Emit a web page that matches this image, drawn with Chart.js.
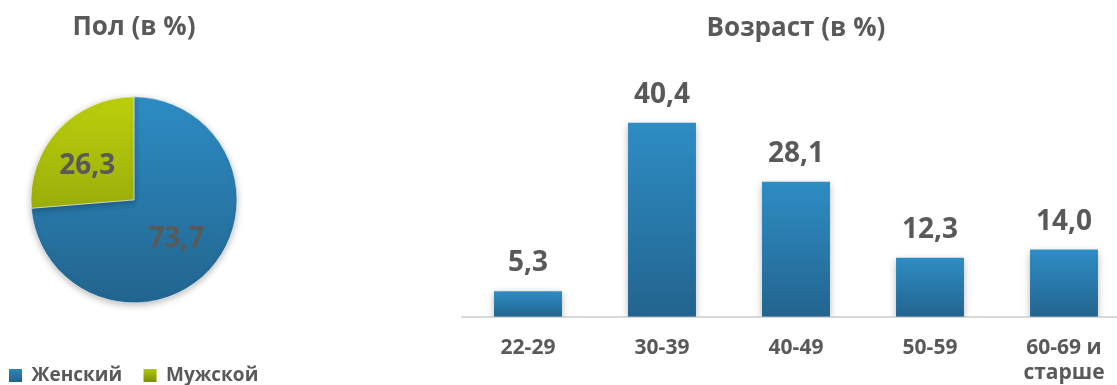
<!DOCTYPE html>
<html lang="ru">
<head>
<meta charset="utf-8">
<title>Пол и возраст</title>
<script src="https://cdn.jsdelivr.net/npm/chart.js@4/dist/chart.umd.min.js"></script>
<style>
  html, body { margin: 0; padding: 0; background: #fff; overflow: hidden; }
  body { width: 1117px; height: 385px; position: relative; }
  .box { position: absolute; top: 0; }
  #pieBox { left: -1px; width: 270px; height: 395px; }
  #barBox { left: 461px; width: 670px; height: 404px; }
</style>
</head>
<body>
<div class="box" id="pieBox"><canvas id="pieChart"></canvas></div>
<div class="box" id="barBox"><canvas id="barChart"></canvas></div>
<script>
const genderLabels = ['Женский', 'Мужской'];
const genderValues = [73.7, 26.3];

const ageLabels = ['22-29', '30-39', '40-49', '50-59', ['60-69 и', 'старше']];
const ageValues = [5.3, 40.4, 28.1, 12.3, 14.0];

const textGrey = '#595959';
const fontFamily = '"Open Sans", "Noto Sans", sans-serif';
const pieRadius = 103;

Chart.defaults.font.family = fontFamily;
Chart.defaults.color = textGrey;

function fmt(v) {
  return v.toFixed(1).replace('.', ',');
}

function vGradient(ctx, top, bottom, c1, c2) {
  const g = ctx.createLinearGradient(0, top, 0, bottom);
  g.addColorStop(0, c1);
  g.addColorStop(1, c2);
  return g;
}

// soft drop shadow under slices and bars
const shadowPlugin = {
  id: 'shadow',
  beforeDatasetsDraw(chart) {
    const ctx = chart.ctx;
    ctx.save();
    ctx.shadowColor = 'rgba(0,0,0,0.28)';
    ctx.shadowBlur = 7;
    ctx.shadowOffsetY = 2;
  },
  afterDatasetsDraw(chart) {
    chart.ctx.restore();
  }
};

// value labels (no datalabels plugin offline)
const valueLabels = {
  id: 'valueLabels',
  afterDraw(chart) {
    const ctx = chart.ctx;
    const meta = chart.getDatasetMeta(0);
    const data = chart.data.datasets[0].data;
    ctx.save();
    ctx.font = 'bold 28px ' + fontFamily;
    ctx.fillStyle = textGrey;
    ctx.textAlign = 'center';
    meta.data.forEach((el, i) => {
      if (chart.config.type === 'pie') {
        const p = el.getProps(['x', 'y', 'startAngle', 'endAngle', 'outerRadius'], true);
        const mid = (p.startAngle + p.endAngle) / 2 - (i === 1 ? 0.12 : 0);
        const r = p.outerRadius * 0.56;
        ctx.textBaseline = 'middle';
        ctx.fillText(fmt(data[i]), p.x + Math.cos(mid) * r, p.y + Math.sin(mid) * r);
      } else {
        const p = el.getProps(['x', 'y'], true);
        ctx.textBaseline = 'alphabetic';
        ctx.fillText(fmt(data[i]), p.x, p.y - 20);
      }
    });
    ctx.restore();
  }
};

const pieChart = new Chart(document.getElementById('pieChart'), {
  type: 'pie',
  data: {
    labels: genderLabels,
    datasets: [{
      data: genderValues,
      radius: pieRadius,
      backgroundColor: (c) => {
        const area = c.chart.chartArea;
        if (!area) return c.dataIndex === 0 ? '#2A7DB0' : '#A3B60E';
        const cy = (area.top + area.bottom) / 2;
        return c.dataIndex === 0
          ? vGradient(c.chart.ctx, cy - pieRadius, cy + pieRadius, '#2E8DC4', '#22648F')
          : vGradient(c.chart.ctx, cy - pieRadius, cy + pieRadius, '#BCD00C', '#7F910A');
      },
      borderColor: 'rgba(255,255,255,0.5)',
      borderWidth: 1,
      hoverOffset: 0
    }]
  },
  options: {
    responsive: true,
    maintainAspectRatio: false,
    animation: false,
    plugins: {
      title: {
        display: true,
        text: 'Пол (в %)',
        font: { size: 26, weight: 'bold' },
        color: textGrey,
        padding: { top: 11.5, bottom: 1 }
      },
      legend: {
        position: 'bottom',
        align: 'start',
        labels: {
          boxWidth: 13,
          boxHeight: 13,
          padding: 10,
          color: textGrey,
          font: { size: 19, weight: 'bold' },
          generateLabels(chart) {
            return chart.data.labels.map((l, i) => ({
              // a bit more room after the first item
              text: i === 0 ? l + '\u2002\u200A' : l,
              fillStyle: i === 0
                ? vGradient(chart.ctx, 367, 381, '#2E8DC4', '#22648F')
                : vGradient(chart.ctx, 367, 381, '#BCD00C', '#7F910A'),
              strokeStyle: 'transparent',
              lineWidth: 0,
              fontColor: textGrey,
              index: i
            }));
          }
        }
      },
      tooltip: { enabled: false }
    }
  },
  plugins: [shadowPlugin, valueLabels]
});

const barChart = new Chart(document.getElementById('barChart'), {
  type: 'bar',
  data: {
    labels: ageLabels,
    datasets: [{
      data: ageValues,
      backgroundColor: (c) => {
        const y = c.chart.scales.y;
        if (!y || !c.chart.chartArea) return '#2A7DB0';
        return vGradient(c.chart.ctx, y.getPixelForValue(c.raw), y.getPixelForValue(0), '#2E8DC4', '#22648F');
      },
      borderWidth: 0,
      barPercentage: 0.507,
      categoryPercentage: 1
    }]
  },
  options: {
    responsive: true,
    maintainAspectRatio: false,
    animation: false,
    scales: {
      x: {
        grid: { display: false, drawTicks: false },
        border: { display: true, color: '#D9D9D9', width: 2 },
        ticks: {
          color: textGrey,
          padding: 18.4,
          font: { size: 21, weight: 'bold', lineHeight: 1.2 }
        }
      },
      y: {
        display: false,
        min: 0,
        max: 50
      }
    },
    plugins: {
      title: {
        display: true,
        text: 'Возраст (в %)',
        font: { size: 26, weight: 'bold' },
        color: textGrey,
        padding: { top: 12.5, bottom: 33 }
      },
      legend: { display: false },
      tooltip: { enabled: false }
    }
  },
  plugins: [shadowPlugin, valueLabels]
});
</script>
</body>
</html>
